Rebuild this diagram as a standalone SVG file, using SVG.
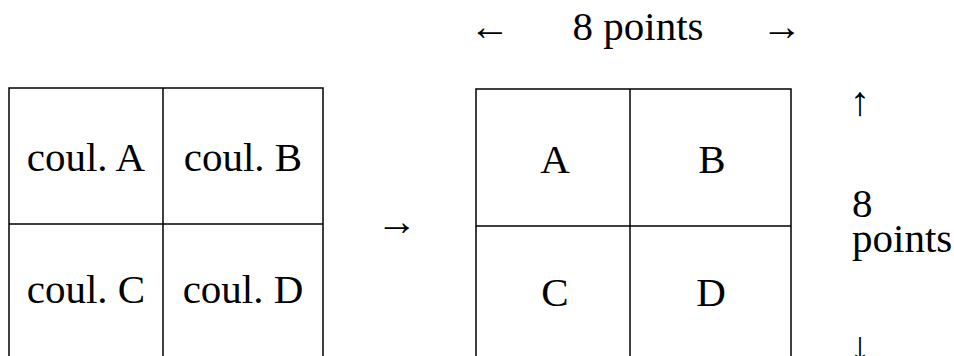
<svg xmlns="http://www.w3.org/2000/svg" width="954" height="356" viewBox="0 0 954 356">
<style>
.c{text-anchor:middle}
.g{fill:none;stroke:#000;stroke-width:1.5}
</style>
<rect width="954" height="356" fill="#fff"/>
<g font-family="Liberation Serif, Times New Roman, serif" font-size="41" fill="#000">
<g id="source">
<rect class="g" x="9" y="88" width="314" height="272"/>
<line class="g" x1="163" y1="88" x2="163" y2="360"/>
<line class="g" x1="9" y1="224" x2="323" y2="224"/>
<text class="c" x="86" y="171">coul. A</text>
<text class="c" x="243" y="171">coul. B</text>
<text class="c" x="86" y="303">coul. C</text>
<text class="c" x="243" y="303">coul. D</text>
</g>
<g id="connectors">
<text class="c" x="397" y="235">→</text>
</g>
<g id="target">
<rect class="g" x="476" y="89" width="315" height="272"/>
<line class="g" x1="630" y1="89" x2="630" y2="361"/>
<line class="g" x1="476" y1="226" x2="791" y2="226"/>
<text class="c" x="555" y="173">A</text>
<text class="c" x="712" y="173">B</text>
<text class="c" x="555" y="306">C</text>
<text class="c" x="711" y="306">D</text>
</g>
<g id="dims">
<text class="c" x="490" y="40">←</text>
<text class="c" x="638" y="40">8 points</text>
<text class="c" x="782" y="40">→</text>
<text class="c" x="860" y="115">↑</text>
<text x="852" y="217">8</text>
<text x="852" y="252">points</text>
<text class="c" x="860" y="360">↓</text>
</g>
</g>
</svg>
